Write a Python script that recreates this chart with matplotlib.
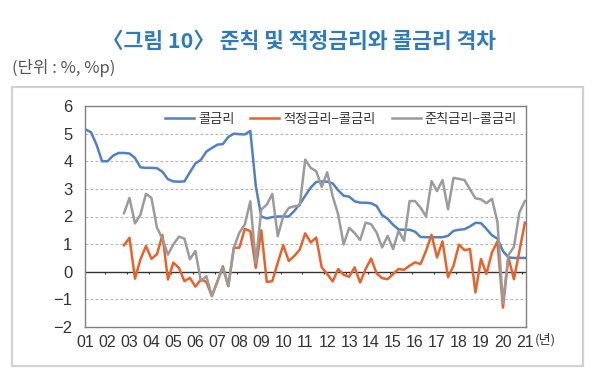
import numpy as np
import matplotlib
matplotlib.use("Agg")
import matplotlib.pyplot as plt
from matplotlib.patches import Rectangle

plt.rcParams['font.family'] = ['Noto Sans CJK KR', 'DejaVu Sans']

# quarterly data 2001Q1 .. 2021Q1
year_labels = ['01', '02', '03', '04', '05', '06', '07', '08', '09', '10', '11',
               '12', '13', '14', '15', '16', '17', '18', '19', '20', '21']

call_rate = [5.15, 5.05, 4.6, 4.0, 4.0, 4.2, 4.3, 4.3, 4.28, 4.12, 3.78, 3.76,
             3.76, 3.75, 3.62, 3.35, 3.27, 3.26, 3.27, 3.6, 3.92, 4.05, 4.35, 4.48,
             4.6, 4.62, 4.88, 5.0, 4.98, 4.97, 5.1, 3.1, 2.0, 1.93, 1.98, 2.0,
             2.0, 2.0, 2.2, 2.45, 2.75, 3.05, 3.25, 3.27, 3.26, 3.2, 2.95, 2.75,
             2.72, 2.55, 2.5, 2.5, 2.48, 2.38, 2.05, 1.92, 1.7, 1.53, 1.52, 1.52,
             1.45, 1.26, 1.25, 1.25, 1.25, 1.25, 1.3, 1.48, 1.52, 1.54, 1.64, 1.77,
             1.76, 1.55, 1.32, 1.2, 0.75, 0.52, 0.5, 0.5, 0.5]

# gap series start in 2002Q4
gap_start = 7
optimal_gap = [0.96, 1.23, -0.25, 0.45, 0.93, 0.47, 0.63, 1.33, -0.28, 0.33, 0.14,
               -0.34, -0.22, -0.54, -0.28, -0.37, -0.88, -0.37, 0.2, -0.52,
               0.87, 0.87, 1.55, 1.47, 0.14, 1.5, -0.37, -0.34, 0.33, 0.96, 0.39,
               0.57, 0.8, 1.39, 1.06, 1.24, 0.16, -0.08, -0.35, 0.1, -0.11, -0.18,
               0.16, -0.39, 0.1, 0.48, -0.06, -0.23, -0.27, -0.08, 0.1, 0.07, 0.22,
               0.34, 0.28, 0.76, 1.34, 0.52, 1.1, -0.2, 0.22, 0.98, 0.78, 0.82,
               -0.75, 0.46, -0.08, 0.7, 1.1, -1.3, 0.52, -0.27, 0.75, 1.78]

rule_gap = [2.12, 2.67, 1.75, 2.07, 2.82, 2.67, 1.6, 1.2, 0.62, 0.99, 1.27, 1.2,
            0.45, 0.75, -0.34, -0.16, -0.88, -0.34, 0.15, -0.52, 0.87, 1.41, 1.71,
            2.55, 0.33, 2.25, 2.43, 2.82, 1.29, 2.01, 2.31, 2.37, 2.4, 4.06, 3.76,
            3.64, 3.07, 3.6, 2.73, 2.07, 0.99, 1.59, 1.4, 1.15, 1.78, 1.72, 1.42,
            0.88, 1.3, 0.82, 1.48, 1.12, 2.56, 2.56, 2.32, 2.0, 3.28, 2.92, 3.32,
            2.26, 3.4, 3.36, 3.32, 2.98, 2.66, 2.62, 2.48, 2.64, 1.8, -1.15, 0.6,
            0.9, 2.15, 2.56]

series_names = ['콜금리', '적정금리−콜금리', '준칙금리−콜금리']
colors = ['#4f81c4', '#e8622a', '#9b9b9b']

W, H = 595, 381
fig = plt.figure(figsize=(W / 100, H / 100), dpi=100)

# outer light box
fig.patches.append(Rectangle((12 / W, 1 - 366 / H), (583 - 12) / W, (366 - 87) / H,
                             transform=fig.transFigure, fill=False,
                             edgecolor='#d2d2d2', lw=1.6))

fig.text(0.503, 1 - 42 / H, '〈그림 10〉 준칙 및 적정금리와 콜금리 격차',
         ha='center', va='center', fontsize=15.5, color='#2c7bbf', fontweight='bold')
fig.text(12 / W, 1 - 68 / H, '(단위 : %, %p)', ha='left', va='center',
         fontsize=12, color='#555555')

ax = fig.add_axes([85 / W, 1 - 327 / H, (526 - 85) / W, (327 - 106) / H])

x_all = np.arange(len(call_rate))
x_gap = np.arange(gap_start, gap_start + len(optimal_gap))

l1, = ax.plot(x_all, call_rate, color=colors[0], lw=1.8, solid_joinstyle='round')
l2, = ax.plot(x_gap, optimal_gap, color=colors[1], lw=1.8, solid_joinstyle='round')
l3, = ax.plot(x_gap, rule_gap, color=colors[2], lw=1.8, solid_joinstyle='round')

ax.set_xlim(-0.1, 80.2)
ax.set_ylim(-2, 6)

# grid
for yv in [-1, 1, 2, 3, 4, 5]:
    ax.axhline(yv, color='#b5b5b5', lw=0.8, ls=(0, (2.5, 2)), zorder=0)
ax.axhline(0, color='#333333', lw=1.0, zorder=1)
tick_pos = np.arange(4, 81, 4) - 0.5
ax.vlines(tick_pos, -0.09, 0, color='#333333', lw=0.8, zorder=1)

for s in ax.spines.values():
    s.set_color('#808080')
    s.set_linewidth(1.0)

ax.set_yticks(np.arange(-2, 7, 1))
ax.set_yticklabels([str(v).replace('-', '−') for v in range(-2, 7)],
                   fontsize=12, color='#333333', family=['Liberation Sans', 'DejaVu Sans'])
ax.set_xticks(np.arange(0, 81, 4))
ax.set_xticklabels(year_labels, fontsize=11.5, color='#333333',
                   family=['Liberation Sans Narrow', 'Liberation Sans'])
ax.tick_params(axis='both', length=0)
ax.tick_params(axis='y', pad=9)
ax.tick_params(axis='x', pad=6)

fig.text(535 / W, 1 - 340 / H, '(년)', ha='left', va='center', fontsize=9.5,
         color='#333333')

leg = ax.legend([l1, l2, l3], series_names, loc='upper right', ncol=3, frameon=False,
                fontsize=9.5, handlelength=2.2, handletextpad=0.3, columnspacing=1.2,
                bbox_to_anchor=(1.0, 1.01), borderaxespad=0.3)
for t in leg.get_texts():
    t.set_color('#333333')

fig.savefig('out.png', dpi=100)
